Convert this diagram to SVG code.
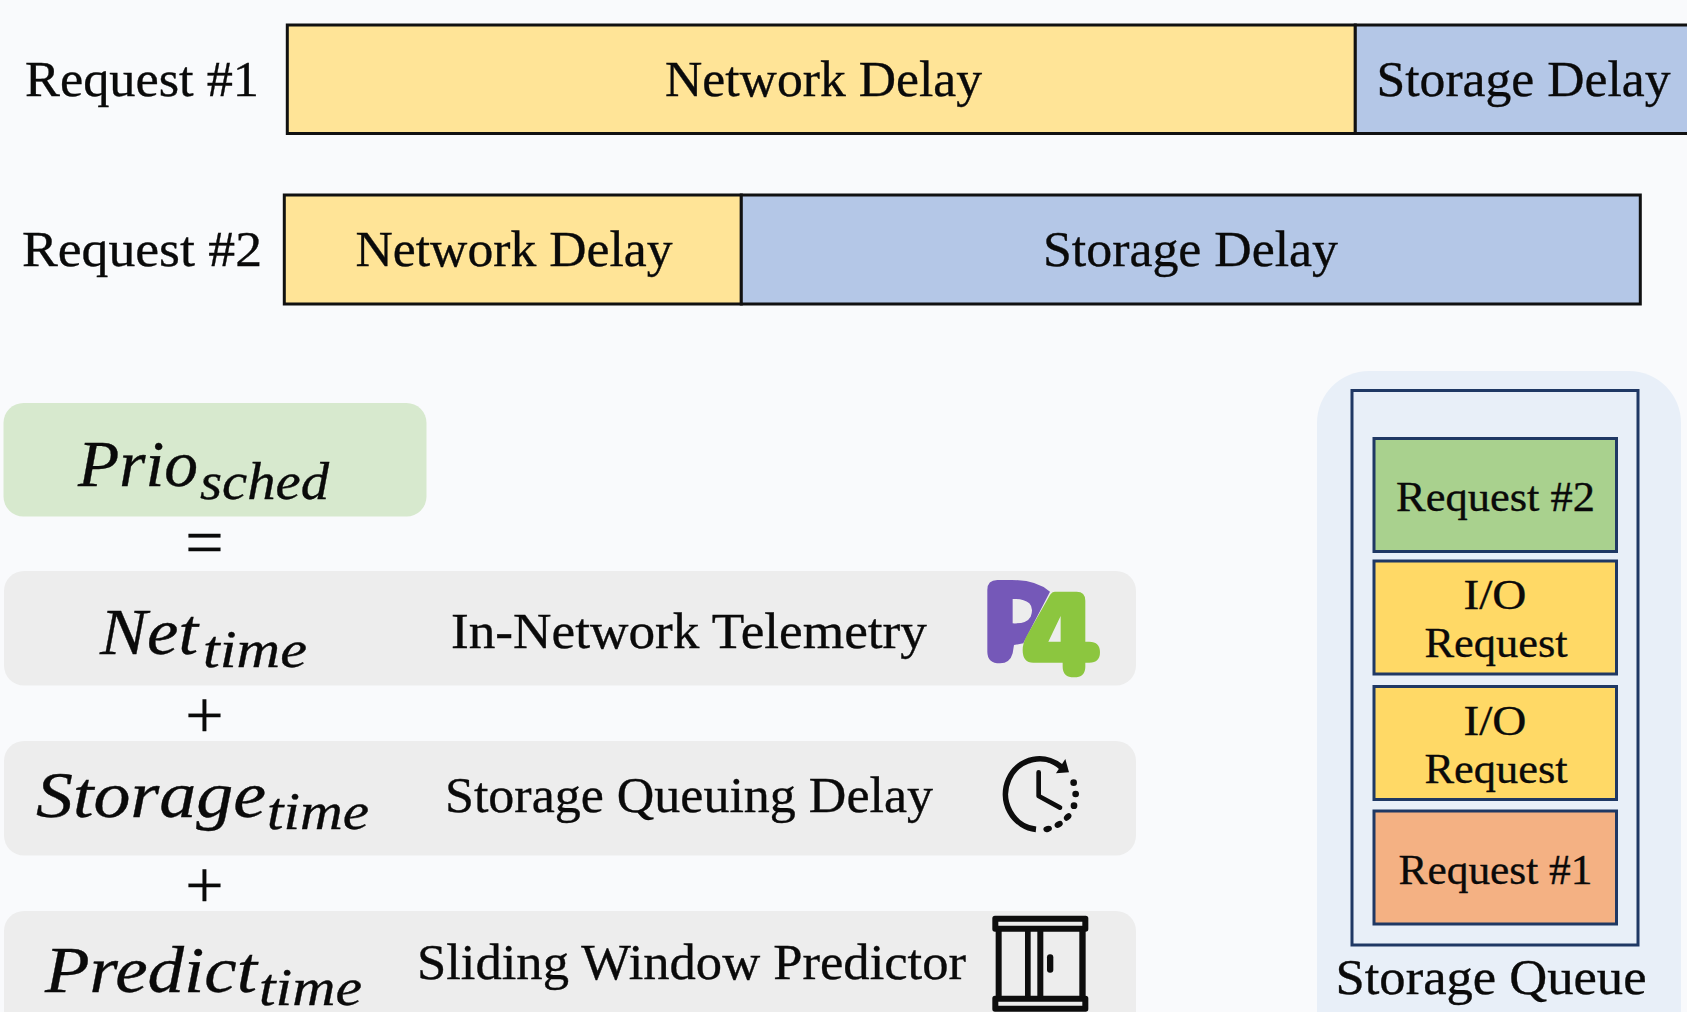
<svg xmlns="http://www.w3.org/2000/svg" width="1687" height="1012" viewBox="0 0 1687 1012">
<style>
text{font-family:"Liberation Serif","Times New Roman",serif;fill:#0a0a0a;stroke:#0a0a0a;stroke-width:.35px}
.t{font-size:51px}
.m{font-size:66px;font-style:italic}
.s{font-size:52px;font-style:italic}
.q{font-size:43px}
.op{font-size:68px;text-anchor:middle}
.bar{stroke:#111;stroke-width:3}
.y{fill:#FFE497}
.b{fill:#B4C7E7}
.g{fill:#EDEDED}
.qb{stroke:#1F3864;stroke-width:3}
.k{fill:#0d0d0d}
</style>
<rect width="1687" height="1012" fill="#F9FAFC"/>

<g id="request-1">
<text class="t" x="25" y="96" textLength="234" lengthAdjust="spacingAndGlyphs">Request #1</text>
<rect class="bar y" x="287.3" y="25" width="1068" height="108.5"/>
<rect class="bar b" x="1355.3" y="25" width="340" height="108.5"/>
<text class="t" x="665" y="96" textLength="317" lengthAdjust="spacingAndGlyphs">Network Delay</text>
<text class="t" x="1376.5" y="96" textLength="294" lengthAdjust="spacingAndGlyphs">Storage Delay</text>
</g>

<g id="request-2">
<text class="t" x="22" y="266" textLength="240" lengthAdjust="spacingAndGlyphs">Request #2</text>
<rect class="bar y" x="284.3" y="195" width="457" height="109"/>
<rect class="bar b" x="741.3" y="195" width="899" height="109"/>
<text class="t" x="355.5" y="266" textLength="317" lengthAdjust="spacingAndGlyphs">Network Delay</text>
<text class="t" x="1043" y="266" textLength="295" lengthAdjust="spacingAndGlyphs">Storage Delay</text>
</g>

<g id="prio">
<rect x="3.5" y="403" width="423" height="113.5" rx="20" fill="#D7E9CE"/>
<text class="m" x="78" y="486" textLength="120" lengthAdjust="spacingAndGlyphs">Prio</text>
<text class="s" x="200" y="499" textLength="129" lengthAdjust="spacingAndGlyphs">sched</text>
</g>
<text class="op" x="204.5" y="565">=</text>

<g id="net">
<rect class="g" x="4" y="571" width="1132" height="114.5" rx="20"/>
<text class="m" x="100" y="654" textLength="98" lengthAdjust="spacingAndGlyphs">Net</text>
<text class="s" x="203" y="667" textLength="104" lengthAdjust="spacingAndGlyphs">time</text>
<text class="t" x="451" y="648" textLength="476" lengthAdjust="spacingAndGlyphs">In-Network Telemetry</text>
<g id="p4-logo" transform="translate(940 560) scale(.3333)">
<path fill="#7558B8" fill-rule="evenodd" d="M142 90Q142 60 172 60L215 60Q290 60 330 95L250 250L222 255L218 280Q210 310 180 310Q142 310 142 275ZM218 117L218 190Q260 192 272 170Q282 145 268 130Q250 115 218 117Z"/>
<path fill="#8CC63F" fill-rule="evenodd" d="M345 95L410 95Q436 95 436 122L436 245L448 245Q480 245 480 277Q480 308 448 308L436 308L436 320Q436 352 402 352Q368 352 368 320L368 308L280 308Q248 308 248 270Q248 250 260 228L330 105Q336 95 345 95ZM362 168L325 245L362 245Z"/>
</g>
</g>
<text class="op" x="204.5" y="738">+</text>

<g id="storage">
<rect class="g" x="4" y="741" width="1132" height="114.5" rx="20"/>
<text class="m" x="36" y="817" textLength="230" lengthAdjust="spacingAndGlyphs">Storage</text>
<text class="s" x="267" y="829" textLength="102" lengthAdjust="spacingAndGlyphs">time</text>
<text class="t" x="445" y="812" textLength="488" lengthAdjust="spacingAndGlyphs">Storage Queuing Delay</text>
<g id="clock-icon" transform="translate(961 740) scale(.3333)">
<path d="M225 268A102 106 0 1 1 306 86" fill="none" stroke="#0d0d0d" stroke-width="17"/>
<path class="k" d="M285 100L324 97L313 57Z"/>
<path d="M233 97V168L297 203" fill="none" stroke="#0d0d0d" stroke-width="14" stroke-linecap="round" stroke-linejoin="round"/>
<g class="k">
<circle cx="338" cy="128" r="10"/><circle cx="344" cy="162" r="10"/><circle cx="339" cy="197" r="10"/>
<ellipse cx="320" cy="231" rx="13" ry="9" transform="rotate(-45 320 231)"/><ellipse cx="293" cy="253" rx="13" ry="9" transform="rotate(-30 293 253)"/><ellipse cx="260" cy="267" rx="13" ry="9" transform="rotate(-15 260 267)"/>
</g>
</g>
</g>
<text class="op" x="204.5" y="908">+</text>

<g id="predict">
<rect class="g" x="4" y="911" width="1132" height="120" rx="20"/>
<text class="m" x="45" y="992" textLength="212" lengthAdjust="spacingAndGlyphs">Predict</text>
<text class="s" x="259" y="1005" textLength="103" lengthAdjust="spacingAndGlyphs">time</text>
<text class="t" x="417" y="979" textLength="549" lengthAdjust="spacingAndGlyphs">Sliding Window Predictor</text>
<g id="cabinet-icon" transform="translate(960 740) scale(.3333)">
<path class="k" fill-rule="evenodd" d="M105 527H377Q385 527 385 535V567Q385 575 377 575H105Q97 575 97 567V535Q97 527 105 527ZM115 545V557H367V545Z"/>
<path class="k" fill-rule="evenodd" d="M105 767H377Q385 767 385 775V807Q385 815 377 815H105Q97 815 97 807V775Q97 767 105 767ZM115 785V797H367V785Z"/>
<rect class="k" x="107" y="570" width="18" height="202"/>
<rect class="k" x="358" y="570" width="19" height="202"/>
<rect class="k" x="195" y="570" width="17" height="202"/>
<rect class="k" x="232" y="570" width="18" height="202"/>
<rect class="k" x="261" y="643" width="19" height="55" rx="9"/>
</g>
</g>

<g id="storage-queue">
<rect x="1317" y="371" width="364" height="700" rx="52" fill="#E8EFF8"/>
<rect class="qb" x="1352" y="390.5" width="286" height="554.5" fill="none"/>
<g id="queue-request-2">
<rect class="qb" x="1374" y="438.5" width="242.5" height="113" fill="#A9D18E"/>
<text class="q" x="1396" y="511" textLength="199" lengthAdjust="spacingAndGlyphs">Request #2</text>
</g>
<g id="queue-io-1">
<rect class="qb" x="1374" y="561" width="242.5" height="113" fill="#FFD966"/>
<text class="q" x="1463.5" y="609" textLength="63" lengthAdjust="spacingAndGlyphs">I/O</text>
<text class="q" x="1424.5" y="657" textLength="143" lengthAdjust="spacingAndGlyphs">Request</text>
</g>
<g id="queue-io-2">
<rect class="qb" x="1374" y="686.5" width="242.5" height="113" fill="#FFD966"/>
<text class="q" x="1463.5" y="735" textLength="63" lengthAdjust="spacingAndGlyphs">I/O</text>
<text class="q" x="1424.5" y="783" textLength="143" lengthAdjust="spacingAndGlyphs">Request</text>
</g>
<g id="queue-request-1">
<rect class="qb" x="1374" y="811" width="242.5" height="113" fill="#F4B183"/>
<text class="q" x="1398.5" y="884" textLength="194" lengthAdjust="spacingAndGlyphs">Request #1</text>
</g>
<text class="t" x="1335.5" y="994" textLength="311" lengthAdjust="spacingAndGlyphs">Storage Queue</text>
</g>
</svg>
